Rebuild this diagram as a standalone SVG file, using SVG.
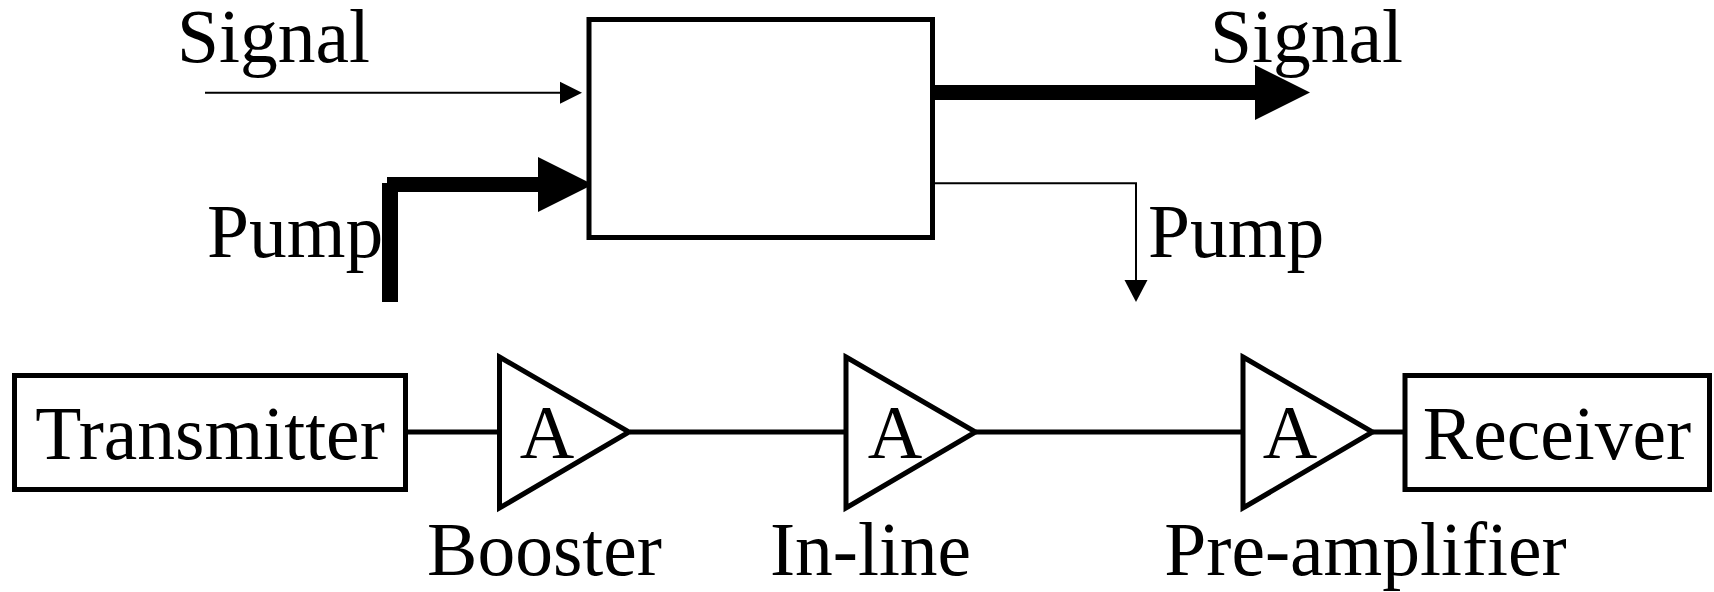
<svg xmlns="http://www.w3.org/2000/svg" width="1714" height="592" viewBox="0 0 1714 592">
<style>
text{font-family:"Liberation Serif","Times New Roman",serif;font-size:75.5px;fill:#000}
.box{fill:#fff;stroke:#000;stroke-width:5}
.amp{fill:#fff;stroke:#000;stroke-width:5;stroke-linejoin:miter}
.thin{stroke:#000;stroke-width:2;fill:none}
.wire{stroke:#000;stroke-width:5;fill:none}
.thick{stroke:#000;stroke-width:15;fill:none}
.head{fill:#000;stroke:none}
</style>
<g id="connectors">
<line class="thin" x1="205" y1="92.7" x2="562" y2="92.7"/>
<polygon class="head" points="560,81.7 582,92.7 560,103.7"/>
<line class="thick" x1="390" y1="183" x2="390" y2="302" style="stroke-width:16"/>
<line class="thick" x1="387" y1="184.5" x2="540" y2="184.5"/>
<polygon class="head" points="538,157 593,184.5 538,212"/>
<line class="thick" x1="932" y1="92.5" x2="1257" y2="92.5"/>
<polygon class="head" points="1255,65 1310,92.5 1255,120"/>
<polyline class="thin" points="932,183.3 1136,183.3 1136,282"/>
<polygon class="head" points="1124.5,280 1147.5,280 1136,302"/>
<line class="wire" x1="407" y1="432" x2="499" y2="432"/>
<line class="wire" x1="630" y1="432" x2="846" y2="432"/>
<line class="wire" x1="976" y1="432" x2="1243" y2="432"/>
<line class="wire" x1="1373" y1="432" x2="1405" y2="432"/>
</g>
<g id="main-box">
<rect class="box" x="589" y="19.5" width="343.5" height="218"/>
</g>
<g id="label-signal-in"><text x="177" y="62">Signal</text></g>
<g id="label-signal-out"><text x="1210" y="62">Signal</text></g>
<g id="label-pump-in"><text x="207" y="257">Pump</text></g>
<g id="label-pump-out"><text x="1148" y="257">Pump</text></g>
<g id="transmitter">
<rect class="box" x="14.5" y="375.5" width="391" height="114"/>
<text x="210" y="459" text-anchor="middle">Transmitter</text>
</g>
<g id="booster">
<polygon class="amp" points="499.5,357 629,432 499.5,508"/>
<text x="547" y="458" text-anchor="middle">A</text>
<text x="544.5" y="575" text-anchor="middle">Booster</text>
</g>
<g id="inline">
<polygon class="amp" points="846,357 975.5,432 846,508"/>
<text x="895" y="458" text-anchor="middle">A</text>
<text x="870.5" y="575" text-anchor="middle">In-line</text>
</g>
<g id="preamp">
<polygon class="amp" points="1243,357 1372.5,432 1243,508"/>
<text x="1290" y="458" text-anchor="middle">A</text>
<text x="1365.5" y="575" text-anchor="middle">Pre-amplifier</text>
</g>
<g id="receiver">
<rect class="box" x="1405" y="375.5" width="304.5" height="114"/>
<text x="1557" y="459" text-anchor="middle">Receiver</text>
</g>
</svg>
